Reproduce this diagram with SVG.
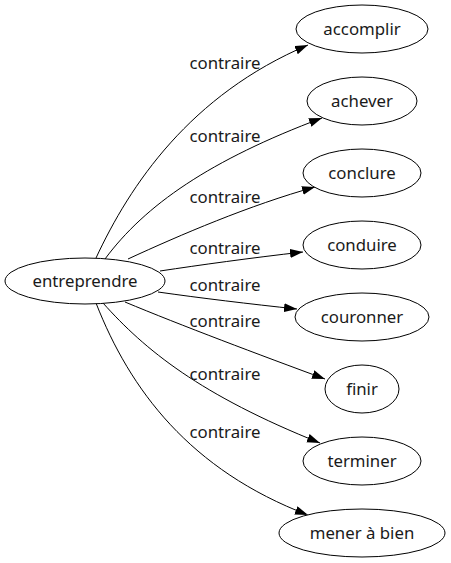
<svg xmlns="http://www.w3.org/2000/svg" width="451" height="563" viewBox="0 0 451 563">
<style>
.n ellipse{fill:#fff;stroke:#000;stroke-width:1}
text{font-family:"Noto Sans","DejaVu Sans",sans-serif;font-size:16.8px;fill:#1a1a1a;text-anchor:middle}
.e path{fill:none;stroke:#000;stroke-width:1}
</style>
<defs>
<marker id="ah" markerUnits="userSpaceOnUse" markerWidth="14" markerHeight="10" refX="13" refY="4.5" orient="auto"><path d="M0,0 L13,4.5 L0,9 z" fill="#000"/></marker>
</defs>
<rect width="451" height="563" fill="#fff"/>
<g id="connectors" class="e">
<path d="M96,258 C130,185 190,95 308,45" marker-end="url(#ah)"/>
<path d="M105,259 C145,205 210,160 322,118" marker-end="url(#ah)"/>
<path d="M128,259 C180,235 250,205 315,187" marker-end="url(#ah)"/>
<path d="M160,271 C200,265 250,258 303,252" marker-end="url(#ah)"/>
<path d="M158,292 C200,298 250,304 297,309" marker-end="url(#ah)"/>
<path d="M125,302 C180,325 260,355 325,379" marker-end="url(#ah)"/>
<path d="M103,303 C145,350 200,395 320,443" marker-end="url(#ah)"/>
<path d="M96,303 C130,390 190,470 308,515" marker-end="url(#ah)"/>
<text x="225" y="69">contraire</text>
<text x="225" y="142">contraire</text>
<text x="225" y="203">contraire</text>
<text x="225" y="254">contraire</text>
<text x="225" y="291">contraire</text>
<text x="225" y="327">contraire</text>
<text x="225" y="380">contraire</text>
<text x="225" y="438">contraire</text>
</g>
<g id="entreprendre" class="n"><ellipse cx="85" cy="281" rx="80" ry="23"/><text x="85" y="287">entreprendre</text></g>
<g id="accomplir" class="n"><ellipse cx="362" cy="29" rx="66" ry="24"/><text x="362" y="35">accomplir</text></g>
<g id="achever" class="n"><ellipse cx="362" cy="101" rx="55" ry="24"/><text x="362" y="107">achever</text></g>
<g id="conclure" class="n"><ellipse cx="362" cy="173" rx="59" ry="24"/><text x="362" y="179">conclure</text></g>
<g id="conduire" class="n"><ellipse cx="362" cy="245" rx="59" ry="24"/><text x="362" y="251">conduire</text></g>
<g id="couronner" class="n"><ellipse cx="362" cy="317" rx="67" ry="24"/><text x="362" y="323">couronner</text></g>
<g id="finir" class="n"><ellipse cx="362" cy="389" rx="37" ry="24"/><text x="362" y="395">finir</text></g>
<g id="terminer" class="n"><ellipse cx="362" cy="461" rx="59" ry="24"/><text x="362" y="467">terminer</text></g>
<g id="mener" class="n"><ellipse cx="362" cy="533" rx="83" ry="24"/><text x="362" y="539">mener à bien</text></g>
</svg>
